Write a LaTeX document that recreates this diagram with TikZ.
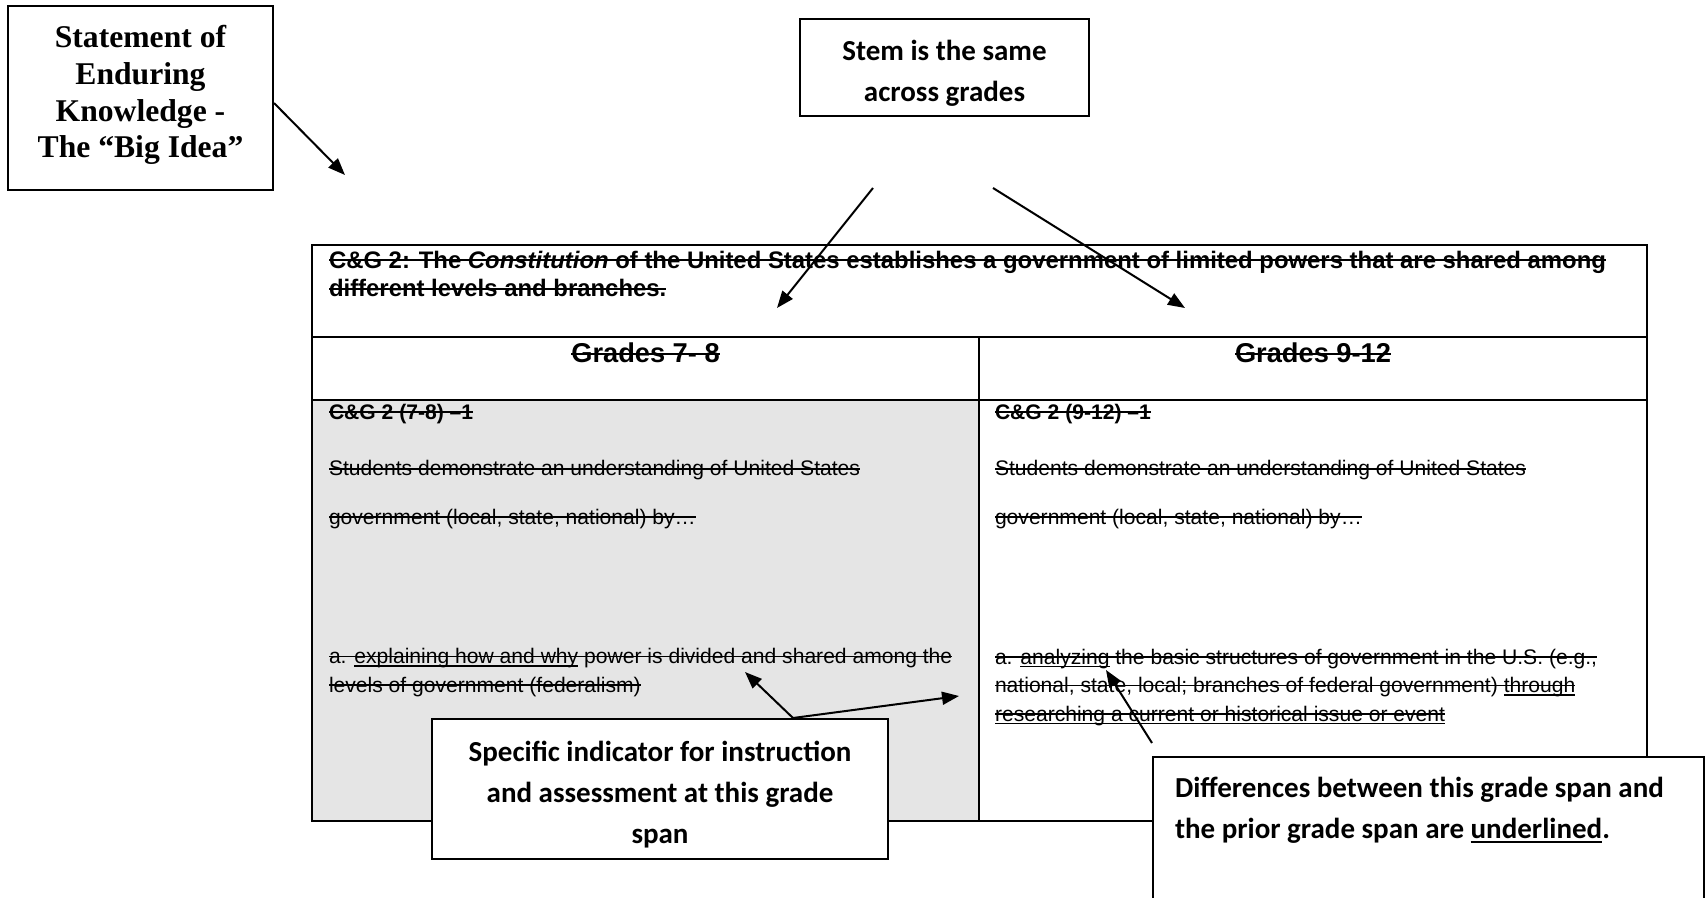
\documentclass[tikz,border=0pt]{standalone}
\usepackage{fontspec}
\setmainfont{Liberation Sans}
\newfontfamily\calib{Carlito}
\newfontfamily\tnr{Liberation Serif}
\usetikzlibrary{arrows.meta}

\newcommand\strk[1]{\setbox0\hbox{#1}\rlap{\rule[0.3em]{\wd0}{0.06em}}\box0}
\newcommand\strkul[1]{\setbox0\hbox{#1}\rlap{\rule[0.3em]{\wd0}{0.06em}}\rlap{\rule[-0.15em]{\wd0}{0.06em}}\box0}
\newcommand\ulin[1]{\setbox0\hbox{#1}\rlap{\rule[-0.15em]{\wd0}{0.06em}}\box0}

\tikzset{
  tbltext/.style={anchor=base west, inner sep=0pt, align=left, font=\fontsize{12}{16.2}\selectfont},
  grade/.style={anchor=base, inner sep=0pt, font=\bfseries\fontsize{15.5}{18}\selectfont},
  callout/.style={draw, fill=white, align=center, font=\calib\bfseries\fontsize{16.5}{23.3}\selectfont}
}

\begin{document}
\begin{tikzpicture}[x=0.2mm, y=-0.2mm, line width=0.4mm, >={Triangle[length=3.4mm,width=2.6mm]}]
\useasboundingbox (0,0) rectangle (1707,898);
\clip (0,0) rectangle (1707,898);
\fill[white] (0,0) rectangle (1707,898);

% table
\fill[black!10] (312,400) rectangle (979,821);
\draw (312,245) rectangle (1647,821);
\draw (312,337) -- (1647,337) (312,400) -- (1647,400) (979,337) -- (979,821);

% multi-line texts sit on the baseline of their last line
\node (title) [tbltext, font=\bfseries\fontsize{13.6}{16.5}\selectfont] at (328,297)
  {\strk{C\&G 2: The }{\itshape\strk{Constitution}}\strk{ of the United States establishes a government of limited powers that are shared among}\\
   \strk{different levels and branches.}};
\node (g78) [grade] at (645.5,363) {\strk{Grades 7- 8}};
\node (g912) [grade] at (1313,363) {\strk{Grades 9-12}};

% grades 7-8
\node (c78) [tbltext, font=\bfseries\fontsize{12}{16.2}\selectfont] at (328,419) {\strk{C\&G 2 (7-8) –1}};
\node (s78) [tbltext] at (328,476) {\strk{Students demonstrate an understanding of United States}};
\node (v78) [tbltext] at (328,524) {\strk{government (local, state, national) by…}};
\node (a78) [tbltext] at (328,692)
  {\strk{a. }\strkul{explaining how and why}\strk{ power is divided and shared among the}\\
   \strk{levels of government (federalism)}};

% grades 9-12
\node (c912) [tbltext, font=\bfseries\fontsize{12}{16.2}\selectfont] at (994,419) {\strk{C\&G 2 (9-12) –1}};
\node (s912) [tbltext] at (994,476) {\strk{Students demonstrate an understanding of United States}};
\node (v912) [tbltext] at (994,524) {\strk{government (local, state, national) by…}};
\node (a912) [tbltext] at (994,721)
  {\strk{a. }\strkul{analyzing}\strk{ the basic structures of government in the U.S. (e.g.,}\\
   \strk{national, state, local; branches of federal government) }\strkul{through}\\
   \strkul{researching a current or historical issue or event}};

% callouts
\node (idea) [draw, fill=white, minimum width=53mm, minimum height=36.8mm, align=center,
  font=\tnr\bfseries\fontsize{18}{21}\selectfont] at (140.5,98)
  {Statement of\\ Enduring\\ Knowledge -\\ The “Big Idea”\rule[-2.6mm]{0pt}{0pt}};
\node (stem) [callout, minimum width=57.8mm, minimum height=19.4mm] at (944.5,67.5)
  {\rule{0pt}{6.2mm}Stem is the same\\ across grades};
\node (ind) [callout, minimum width=91.2mm, minimum height=28mm] at (660,789)
  {\rule{0pt}{6.2mm}Specific indicator for instruction\\ and assessment at this grade\\ span};
\node (diff) [callout, anchor=north west, align=left, text width=101.4mm, inner xsep=4.4mm,
  inner ysep=4mm, text depth=30mm] at (1152,756)
  {\spaceskip=0pt\xspaceskip=0pt Differences between this grade span and\\ the prior grade span are \ulin{underlined}.};

\coordinate (ideatip) at (345,175);
\coordinate (stemL) at (873,188);
\coordinate (stemR) at (993,188);
\coordinate (tipL) at (777,308);
\coordinate (tipR) at (1185,308);
\coordinate (tipA) at (745,672);
\coordinate (tipB) at (959,696);
\coordinate (diffsrc) at (1152,743);
\coordinate (tipU) at (1106,670);

\path[->] ([yshift=-1mm]idea.east) edge (ideatip);
\path[->] (stemL) edge (tipL);
\path[->] (stemR) edge (tipR);
\path[->] ([xshift=26.6mm]ind.north) edge (tipA);
\path[->] ([xshift=26.6mm]ind.north) edge (tipB);
\path[->] (diffsrc) edge (tipU);
\end{tikzpicture}
\end{document}
